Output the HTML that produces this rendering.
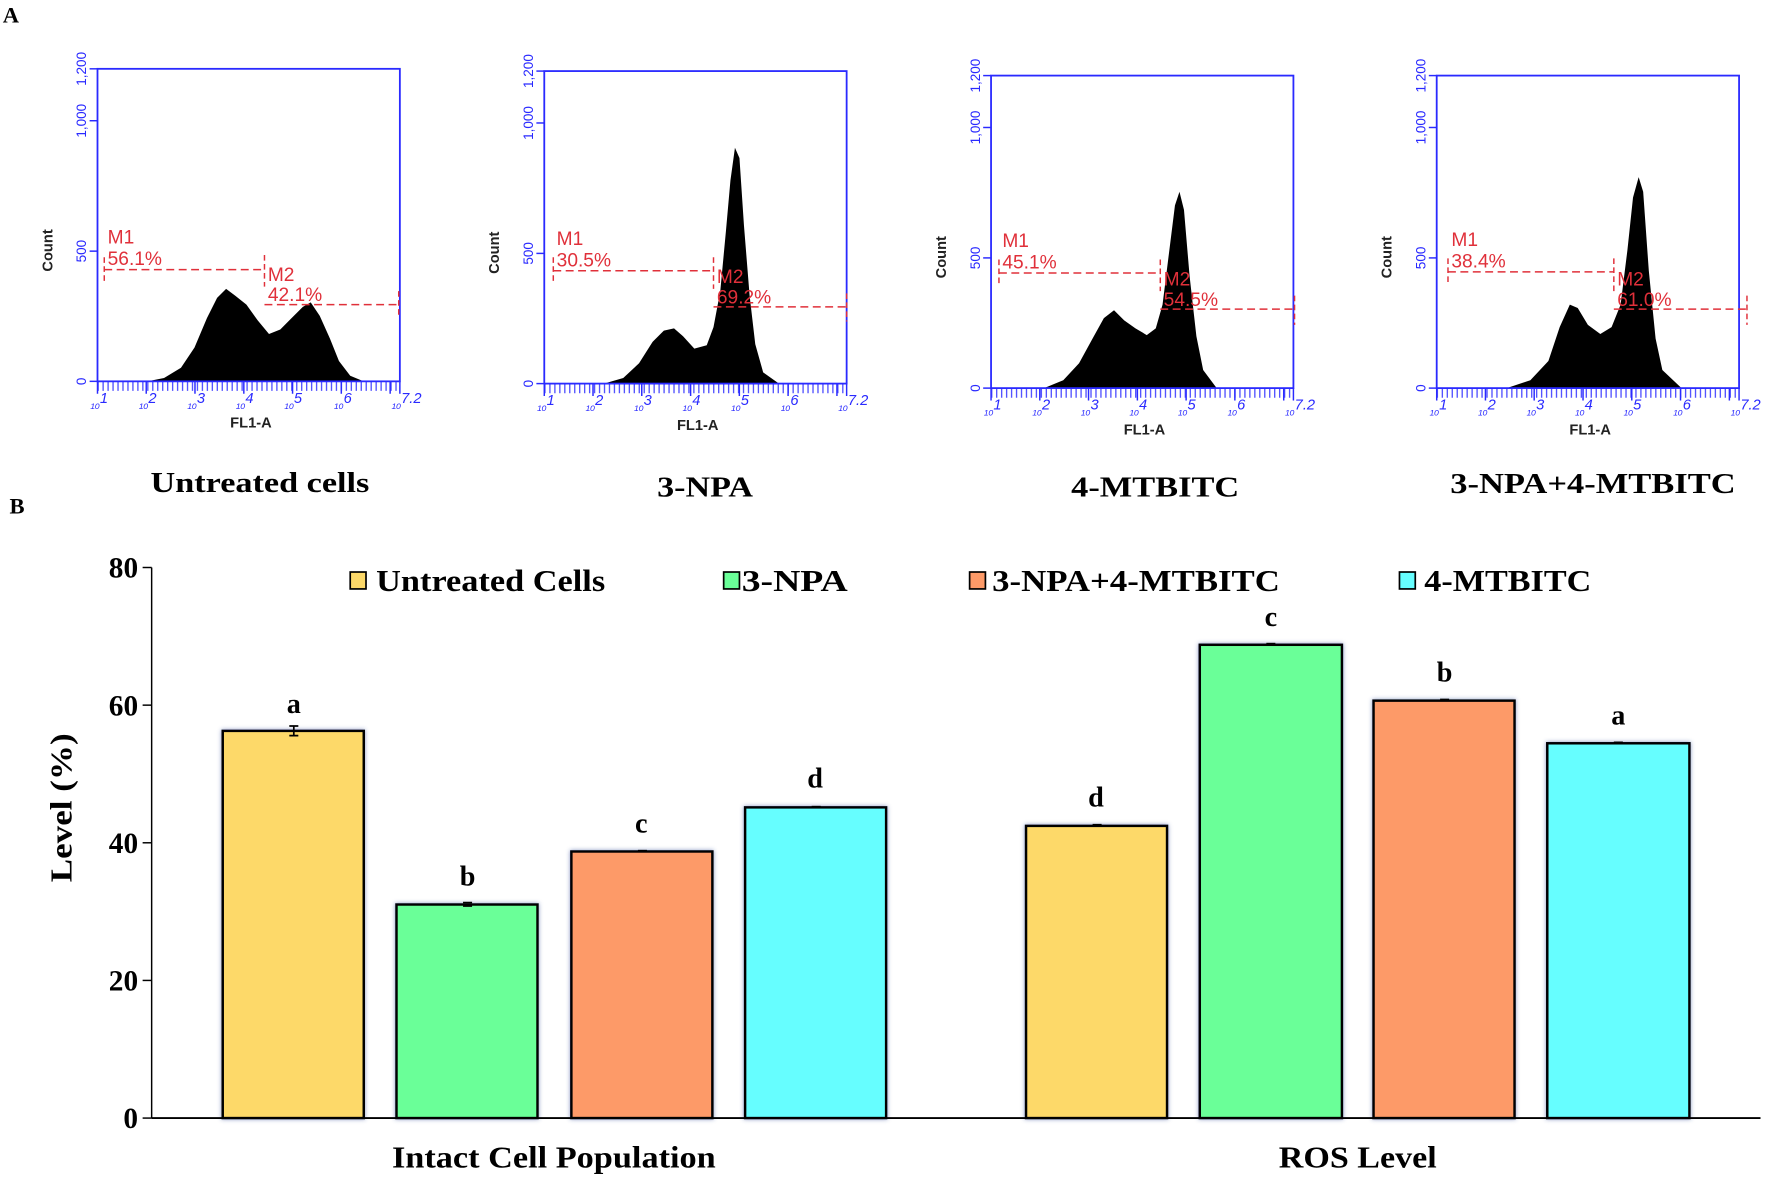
<!DOCTYPE html>
<html><head><meta charset="utf-8"><style>
html,body{margin:0;padding:0;background:#fff;}
svg{display:block;}
.serif{font-family:"Liberation Serif",serif;font-weight:bold;}
.sans{font-family:"Liberation Sans",sans-serif;}
</style></head><body>
<svg width="1770" height="1179" viewBox="0 0 1568 1045" xmlns="http://www.w3.org/2000/svg">
<defs>
<filter id="glow" x="-10%" y="-10%" width="120%" height="120%">
<feGaussianBlur in="SourceAlpha" stdDeviation="2.5"/>
<feFlood flood-color="#3a4f9a" flood-opacity="0.6"/>
<feComposite operator="in" in2="SourceAlpha"/>
<feGaussianBlur stdDeviation="2"/>
<feMerge><feMergeNode/><feMergeNode in="SourceGraphic"/></feMerge>
</filter>
<g id="frame">
<rect x="0" y="0" width="268" height="277" fill="none" stroke="#2a2aff" stroke-width="1.6"/>
<g stroke="#2a2aff" stroke-width="1.3">
<line x1="-7" y1="277" x2="0" y2="277"/><line x1="-7" y1="161.6" x2="0" y2="161.6"/>
<line x1="-7" y1="46" x2="0" y2="46"/><line x1="-7" y1="0" x2="0" y2="0"/>
<line x1="0" y1="277" x2="0" y2="288"/><line x1="43.2" y1="277" x2="43.2" y2="288"/>
<line x1="86.4" y1="277" x2="86.4" y2="288"/><line x1="129.7" y1="277" x2="129.7" y2="288"/>
<line x1="172.9" y1="277" x2="172.9" y2="288"/><line x1="216.1" y1="277" x2="216.1" y2="288"/>
<line x1="259.4" y1="277" x2="259.4" y2="288"/><line x1="268" y1="277" x2="268" y2="288"/>
<line x1="0" y1="281.5" x2="268" y2="281.5" stroke-width="8" stroke-dasharray="1.2 3.2" opacity="0.8"/>
</g>
<g fill="#2a2aff" class="sans" font-size="12">
<text transform="translate(-10,277) rotate(-90)" text-anchor="middle">0</text>
<text transform="translate(-10,161.6) rotate(-90)" text-anchor="middle">500</text>
<text transform="translate(-10,46) rotate(-90)" text-anchor="middle">1,000</text>
<text transform="translate(-10,0) rotate(-90)" text-anchor="middle">1,200</text>
<g font-size="11" font-style="italic">
<text x="-6" y="300">₁₀<tspan dy="-4" font-size="13">1</tspan></text>
<text x="37" y="300">₁₀<tspan dy="-4" font-size="13">2</tspan></text>
<text x="80" y="300">₁₀<tspan dy="-4" font-size="13">3</tspan></text>
<text x="123" y="300">₁₀<tspan dy="-4" font-size="13">4</tspan></text>
<text x="166" y="300">₁₀<tspan dy="-4" font-size="13">5</tspan></text>
<text x="210" y="300">₁₀<tspan dy="-4" font-size="13">6</tspan></text>
<text x="261" y="300">₁₀<tspan dy="-4" font-size="13">7.2</tspan></text>
</g>
</g>
<text transform="translate(-40,161) rotate(-90)" text-anchor="middle" class="sans" font-size="13" font-weight="bold" fill="#222">Count</text>
<text x="136" y="318" text-anchor="middle" class="sans" font-size="13" font-weight="bold" fill="#222">FL1-A</text>
</g>
</defs>

<text x="2" y="20" class="serif" font-size="20">A</text>
<text x="8" y="455" class="serif" font-size="20">B</text>

<polygon fill="#000" points="130,338 145,335 160,326 172,308 183,282 192,264 200,256 208,262 218,270 228,284 238,296 248,292 258,282 268,272 275,268 283,280 292,300 300,320 310,333 322,338"/>
<polygon fill="#000" points="535,340 552,335 566,322 578,303 588,293 597,291 605,298 615,309 626,306 632,290 638,258 643,205 647,160 651,131 655,140 659,200 664,262 669,305 676,330 690,340"/>
<polygon fill="#000" points="925,344 942,337 956,322 968,300 978,282 987,275 996,284 1006,291 1016,297 1024,291 1030,270 1036,222 1041,182 1045,170 1049,186 1054,245 1060,298 1066,328 1078,344"/>
<polygon fill="#000" points="1335,344 1356,337 1372,320 1382,290 1391,270 1398,273 1407,288 1418,296 1428,290 1436,270 1442,222 1447,175 1452,157 1456,170 1461,240 1467,300 1473,328 1490,344"/>
<use href="#frame" transform="translate(86,61)"/>
<use href="#frame" transform="translate(482,63)"/>
<use href="#frame" transform="translate(878,67)"/>
<use href="#frame" transform="translate(1273,67)"/>

<g stroke="#e0303a" stroke-width="1.3" fill="none" stroke-dasharray="7 4">
<path d="M92,239 H234 M234,270 H353"/>
<path d="M490,240 H632 M632,272 H750"/>
<path d="M885,242 H1028 M1028,274 H1147"/>
<path d="M1283,241 H1430 M1430,274 H1548"/>
</g>
<g stroke="#e0303a" stroke-width="1.3" fill="none" stroke-dasharray="5 3">
<path d="M92,228 V250 M234,226 V254 M353,258 V282"/>
<path d="M490,228 V252 M632,228 V256 M750,260 V285"/>
<path d="M885,230 V254 M1028,230 V258 M1147,262 V288"/>
<path d="M1283,229 V253 M1430,229 V258 M1548,262 V288"/>
</g>
<g fill="#e0303a" class="sans" font-size="17">
<text x="95" y="216">M1</text><text x="95" y="235">56.1%</text>
<text x="237" y="249">M2</text><text x="237" y="267">42.1%</text>
<text x="493" y="217">M1</text><text x="493" y="236">30.5%</text>
<text x="635" y="251">M2</text><text x="635" y="269">69.2%</text>
<text x="888" y="219">M1</text><text x="888" y="238">45.1%</text>
<text x="1031" y="253">M2</text><text x="1031" y="271">54.5%</text>
<text x="1286" y="218">M1</text><text x="1286" y="237">38.4%</text>
<text x="1433" y="253">M2</text><text x="1433" y="271">61.0%</text>
</g>

<g class="serif" font-size="25" lengthAdjust="spacingAndGlyphs">
<text x="133" y="436" textLength="194" lengthAdjust="spacingAndGlyphs">Untreated cells</text>
<text x="582" y="440" textLength="85" lengthAdjust="spacingAndGlyphs">3-NPA</text>
<text x="949" y="440" textLength="149" lengthAdjust="spacingAndGlyphs">4-MTBITC</text>
<text x="1285" y="437" textLength="253" lengthAdjust="spacingAndGlyphs">3-NPA+4-MTBITC</text>
</g>

<g stroke="#000" stroke-width="1.3">
<line x1="134" y1="503" x2="134" y2="991"/>
<line x1="126" y1="503" x2="134" y2="503"/><line x1="126" y1="625" x2="134" y2="625"/>
<line x1="126" y1="747" x2="134" y2="747"/><line x1="126" y1="869" x2="134" y2="869"/>
<line x1="126" y1="991" x2="134" y2="991"/>
</g>
<g class="serif" font-size="26" text-anchor="end">
<text x="122" y="512">80</text><text x="122" y="634">60</text><text x="122" y="756">40</text>
<text x="122" y="878">20</text><text x="122" y="1000">0</text>
</g>
<text transform="translate(63,716) rotate(-90)" text-anchor="middle" class="serif" font-size="27" textLength="132" lengthAdjust="spacingAndGlyphs">Level (%)</text>

<g stroke="#000" stroke-width="2.2" filter="url(#glow)">
<rect x="197" y="647.8" width="125" height="343.2" fill="#fdd969"/>
<rect x="351" y="801.7" width="125" height="189.3" fill="#6aff98"/>
<rect x="506" y="754.7" width="125" height="236.3" fill="#fd9a68"/>
<rect x="660" y="715.6" width="125" height="275.4" fill="#66feff"/>
<rect x="909" y="732" width="125" height="259" fill="#fdd969"/>
<rect x="1063" y="571.5" width="126" height="419.5" fill="#6aff98"/>
<rect x="1217" y="621" width="125" height="370" fill="#fd9a68"/>
<rect x="1371" y="658.8" width="126" height="332.2" fill="#66feff"/>
</g>
<line x1="134" y1="991" x2="1560" y2="991" stroke="#000" stroke-width="1.6"/>
<g stroke="#000" stroke-width="1.5">
<path d="M256,643.5 H264 M260,643.5 V652 M256,652 H264"/>
<path d="M410,800 H418 M410,803 H418"/>
<path d="M565,754 H573"/><path d="M719,715 H727"/><path d="M968,731 H976"/>
<path d="M1122,570.5 H1130"/><path d="M1276,620 H1284"/><path d="M1430,658 H1438"/>
</g>
<g class="serif" font-size="25" text-anchor="middle">
<text x="260" y="632">a</text><text x="414" y="785">b</text><text x="568" y="738">c</text>
<text x="722" y="698">d</text><text x="971" y="715">d</text><text x="1126" y="555">c</text>
<text x="1280" y="604">b</text><text x="1434" y="642">a</text>
</g>

<g stroke="#000" stroke-width="1.5">
<rect x="310" y="507" width="14" height="15" fill="#fdd969"/>
<rect x="641" y="507" width="14" height="15" fill="#6aff98"/>
<rect x="859" y="507" width="14" height="15" fill="#fd9a68"/>
<rect x="1240" y="507" width="14" height="15" fill="#66feff"/>
</g>
<g class="serif" font-size="27">
<text x="333" y="524" textLength="203" lengthAdjust="spacingAndGlyphs">Untreated Cells</text>
<text x="657" y="524" textLength="94" lengthAdjust="spacingAndGlyphs">3-NPA</text>
<text x="879" y="524" textLength="255" lengthAdjust="spacingAndGlyphs">3-NPA+4-MTBITC</text>
<text x="1262" y="524" textLength="148" lengthAdjust="spacingAndGlyphs">4-MTBITC</text>
</g>
<g class="serif" font-size="27">
<text x="347" y="1035" textLength="287" lengthAdjust="spacingAndGlyphs">Intact Cell Population</text>
<text x="1133" y="1035" textLength="140" lengthAdjust="spacingAndGlyphs">ROS Level</text>
</g>
</svg>
</body></html>
